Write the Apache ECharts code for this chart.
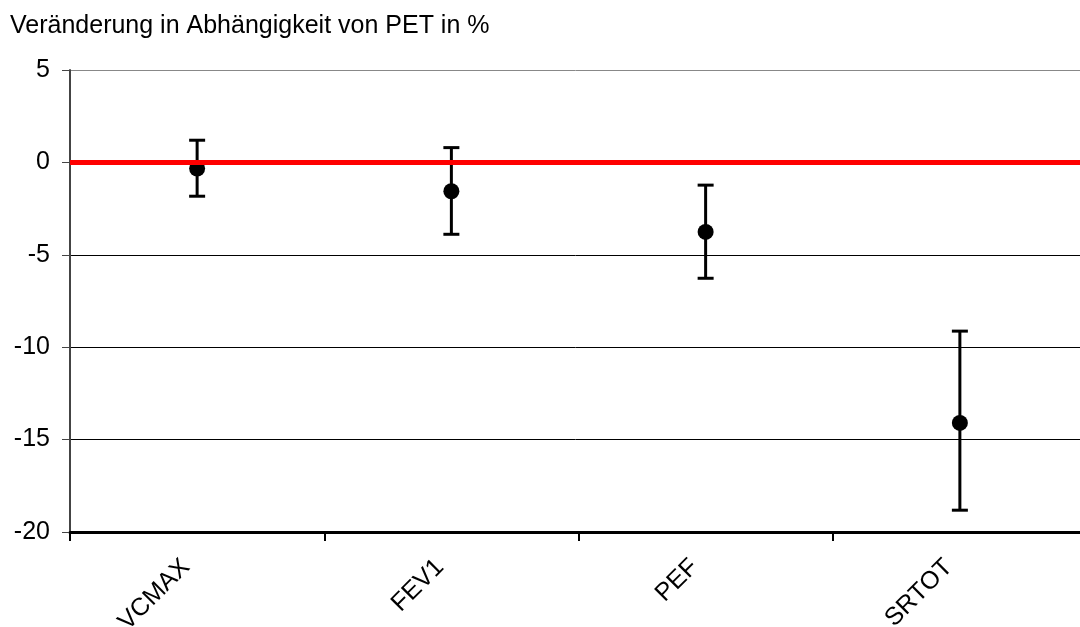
<!DOCTYPE html>
<html>
<head>
<meta charset="utf-8">
<script src="https://cdn.jsdelivr.net/npm/echarts@6/dist/echarts.min.js"></script>
<style>
  html, body { margin: 0; padding: 0; background: #fff; }
  #chart { width: 1080px; height: 627px; }
</style>
</head>
<body>
<div id="chart"></div>
<script>
// Lung function parameters and their change (%) depending on PET
const categories = ['VCMAX', 'FEV1', 'PEF', 'SRTOT'];
const meanChange = [-0.33, -1.56, -3.76, -14.1];
const upperBound = [1.2, 0.8, -1.23, -9.13];
const lowerBound = [-1.83, -3.89, -6.27, -18.82];
const yTicks = { min: -20, max: 5, step: 5 };

const chart = echarts.init(document.getElementById('chart'));
const font = '"Liberation Sans", Arial, sans-serif';

const errorData = categories.map((c, i) => [i, lowerBound[i], upperBound[i]]);

chart.setOption({
  animation: false,
  backgroundColor: '#fff',
  title: {
    text: 'Veränderung in Abhängigkeit von PET in %',
    left: 5, top: 9,
    textStyle: { fontFamily: font, fontSize: 25, fontWeight: 'normal', color: '#000' }
  },
  grid: { left: 70, top: 70, right: -7, bottom: 95, containLabel: false, outerBoundsMode: 'none' },
  xAxis: {
    type: 'category',
    data: categories,
    boundaryGap: true,
    axisLine: { onZero: false, lineStyle: { color: '#000', width: 3 } },
    axisTick: { show: true, length: 9, lineStyle: { color: '#000', width: 2 } },
    axisLabel: { rotate: 45, fontFamily: font, fontSize: 25, color: '#000', margin: 20, padding: [0, 16, 0, 0] },
    splitLine: { show: false }
  },
  yAxis: {
    type: 'value',
    min: yTicks.min, max: yTicks.max, interval: yTicks.step,
    axisLine: { show: true, lineStyle: { color: '#444', width: 2 } },
    axisTick: { show: true, length: 8, lineStyle: { color: '#444', width: 1 } },
    axisLabel: { fontFamily: font, fontSize: 25, color: '#000', margin: 20 },
    splitLine: { show: true, lineStyle: { color: ['#000', '#000', '#000', '#000', '#000', '#888'], width: 1 } }
  },
  series: [
    {
      type: 'custom',
      name: 'range',
      data: errorData,
      z: 3,
      renderItem: function (params, api) {
        const x = api.value(0);
        const lo = api.coord([x, api.value(1)]);
        const hi = api.coord([x, api.value(2)]);
        const half = 8;
        const style = { stroke: '#000', lineWidth: 3 };
        return {
          type: 'group',
          children: [
            { type: 'line', shape: { x1: hi[0], y1: hi[1], x2: lo[0], y2: lo[1] }, style: style },
            { type: 'line', shape: { x1: hi[0] - half, y1: hi[1], x2: hi[0] + half, y2: hi[1] }, style: style },
            { type: 'line', shape: { x1: lo[0] - half, y1: lo[1], x2: lo[0] + half, y2: lo[1] }, style: style }
          ]
        };
      }
    },
    {
      type: 'scatter',
      name: 'mean',
      data: meanChange,
      symbol: 'circle',
      symbolSize: 16,
      itemStyle: { color: '#000', opacity: 1 },
      z: 4,
      markLine: {
        silent: true,
        symbol: 'none',
        label: { show: false },
        lineStyle: { color: '#ff0000', width: 5, type: 'solid', opacity: 1 },
        data: [{ yAxis: 0 }],
        z: 5
      }
    }
  ]
});
</script>
</body>
</html>
